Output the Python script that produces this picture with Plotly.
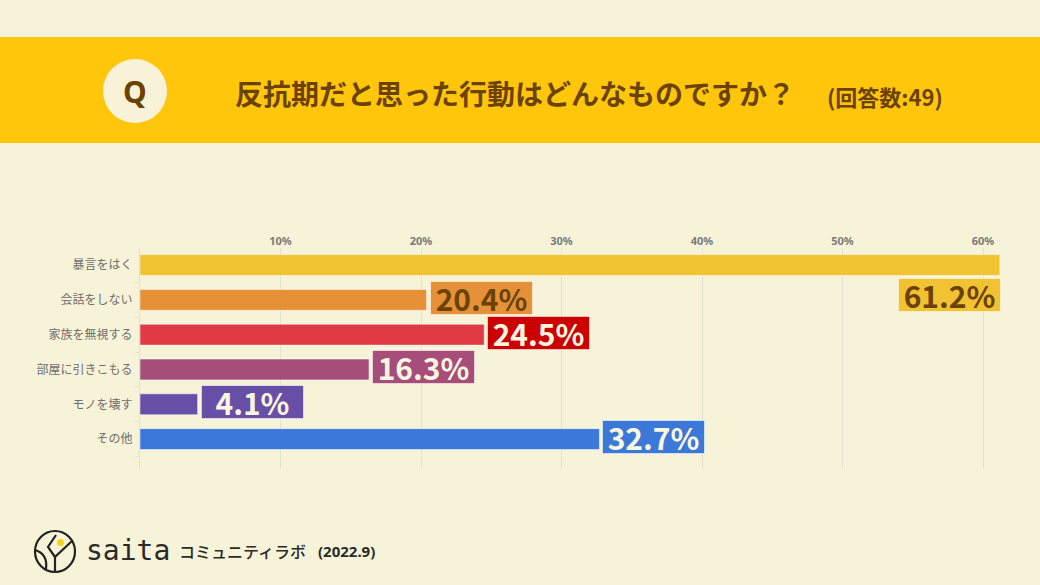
import plotly.graph_objects as go

categories = ["暴言をはく", "会話をしない", "家族を無視する", "部屋に引きこもる", "モノを壊す", "その他"]
values = [61.2, 20.4, 24.5, 16.3, 4.1, 32.7]
bar_colors = ["#f1c232", "#e69138", "#e03a44", "#a64d79", "#674ea7", "#3c78d8"]
label_bg = ["#f1c232", "#e69138", "#cc0000", "#a64d79", "#674ea7", "#3c78d8"]
label_fg = ["#6b4200", "#6b4200", "#fbf6e0", "#fbf6e0", "#fbf6e0", "#fbf6e0"]
tick_vals = [10, 20, 30, 40, 50, 60]
tick_text = ["10%", "20%", "30%", "40%", "50%", "60%"]

W, H = 1040, 585
BG = "#f7f3d8"
BROWN = "#6b4200"

def px_x(p):
    return p / W

def px_y(p):
    return 1 - p / H

ypos = list(range(len(categories)))

fig = go.Figure()
fig.add_trace(go.Bar(
    x=values, y=ypos, orientation="h",
    marker=dict(color=bar_colors, line=dict(color="rgba(255,255,255,0.5)", width=1)),
    width=0.6, hoverinfo="skip",
))

scale = (983 - 140) / 60.0
xmax = 62
x_end = 140 + xmax * scale

fig.update_layout(
    width=W, height=H,
    margin=dict(l=0, r=0, t=0, b=0),
    paper_bgcolor=BG, plot_bgcolor=BG,
    showlegend=False,
    font=dict(family="Noto Sans CJK JP", color="#666"),
    xaxis=dict(
        domain=[px_x(140), px_x(x_end)],
        range=[0, xmax], side="top",
        tickvals=tick_vals, ticktext=tick_text,
        tickfont=dict(size=11, color="#7a7a7a", family="Noto Sans", weight="bold"),
        showgrid=True, gridcolor="#e2e2d2", gridwidth=1,
        zeroline=False, showline=False, ticks="",
    ),
    yaxis=dict(
        domain=[px_y(468), px_y(248)],
        range=[5.83, -0.49],
        tickvals=ypos, ticktext=categories,
        tickfont=dict(size=12, color="#6e6e6e", family="Noto Sans CJK JP"),
        showgrid=False, zeroline=False,
        showline=True, linecolor="#e2e2d2", linewidth=1,
        ticks="", ticklabelstandoff=4,
        minor=dict(tickvals=[-0.5, 0.5, 1.5, 2.5, 3.5, 4.5, 5.5], ticks="outside",
                   ticklen=4, tickcolor="#e2e2d2"),
    ),
)

# value labels
for i, (v, bg, fg) in enumerate(zip(values, label_bg, label_fg)):
    common = dict(xref="x", yref="y", text=f"{v:.1f}%", showarrow=False,
                  yanchor="middle", bgcolor=bg,
                  bordercolor="rgba(255,255,255,0.55)", borderwidth=1,
                  borderpad=0, width=101, height=32, align="center", valign="middle",
                  font=dict(family="Noto Sans CJK JP", size=30, color=fg, weight=600))
    if i == 0:
        fig.add_annotation(x=v, y=i + 0.86, xanchor="right", xshift=1, **common)
    else:
        fig.add_annotation(x=v, y=i, xanchor="left", xshift=3, yshift=2, **common)

# header band
fig.add_shape(type="rect", xref="paper", yref="paper",
              x0=0, x1=1, y0=px_y(143), y1=px_y(37),
              fillcolor="#ffc60b", line=dict(width=0), layer="below")
fig.add_shape(type="circle", xref="paper", yref="paper",
              x0=px_x(103), x1=px_x(167), y0=px_y(123), y1=px_y(59),
              fillcolor="#f7f2d8", line=dict(width=0))
fig.add_annotation(x=px_x(135), y=px_y(91), xref="paper", yref="paper", text="Q",
                   showarrow=False, xanchor="center", yanchor="middle",
                   font=dict(family="Noto Sans", size=30, color=BROWN, weight="bold"))
fig.add_annotation(x=px_x(233), y=px_y(93), xref="paper", yref="paper",
                   text="反抗期だと思った行動はどんなものですか？",
                   showarrow=False, xanchor="left", yanchor="middle",
                   font=dict(family="Noto Sans CJK JP", size=28, color=BROWN, weight="bold"))
fig.add_annotation(x=px_x(825), y=px_y(96), xref="paper", yref="paper",
                   text="(回答数:49)",
                   showarrow=False, xanchor="left", yanchor="middle",
                   font=dict(family="Noto Sans CJK JP", size=22, color=BROWN, weight="bold"))

# footer logo
fig.add_shape(type="circle", xref="paper", yref="paper",
              x0=px_x(35), x1=px_x(75), y0=px_y(572), y1=px_y(531),
              line=dict(color="#222", width=2.2))
fig.add_shape(type="circle", xref="paper", yref="paper",
              x0=px_x(57), x1=px_x(64), y0=px_y(546), y1=px_y(539),
              fillcolor="#f5d31c", line=dict(width=0))
def P(x, y):
    return f"{x/W} {1-y/H}"
fig.add_shape(type="path", xref="paper", yref="paper",
              path=f"M {P(55,572)} L {P(55,557)} L {P(72,541)} M {P(55,557)} L {P(48,547)} L {P(56,535)} M {P(35,550)} Q {P(48,554)} {P(46,569)}",
              line=dict(color="#222", width=2.2))
fig.add_annotation(x=px_x(84), y=px_y(550), xref="paper", yref="paper", text="saita",
                   showarrow=False, xanchor="left", yanchor="middle",
                   font=dict(family="DejaVu Sans Mono", size=28, color="#2a2a2a"))
fig.add_annotation(x=px_x(177), y=px_y(551), xref="paper", yref="paper", text="コミュニティラボ",
                   showarrow=False, xanchor="left", yanchor="middle",
                   font=dict(family="Noto Sans CJK JP", size=16, color="#2a2a2a", weight=500))
fig.add_annotation(x=px_x(316), y=px_y(551), xref="paper", yref="paper", text="(2022.9)",
                   showarrow=False, xanchor="left", yanchor="middle",
                   font=dict(family="Noto Sans", size=15, color="#2a2a2a", weight="bold"))

fig.write_html("out.html", config={"displayModeBar": False},
               post_script="document.body.style.margin='0';document.body.style.background='#f7f3d8';")
